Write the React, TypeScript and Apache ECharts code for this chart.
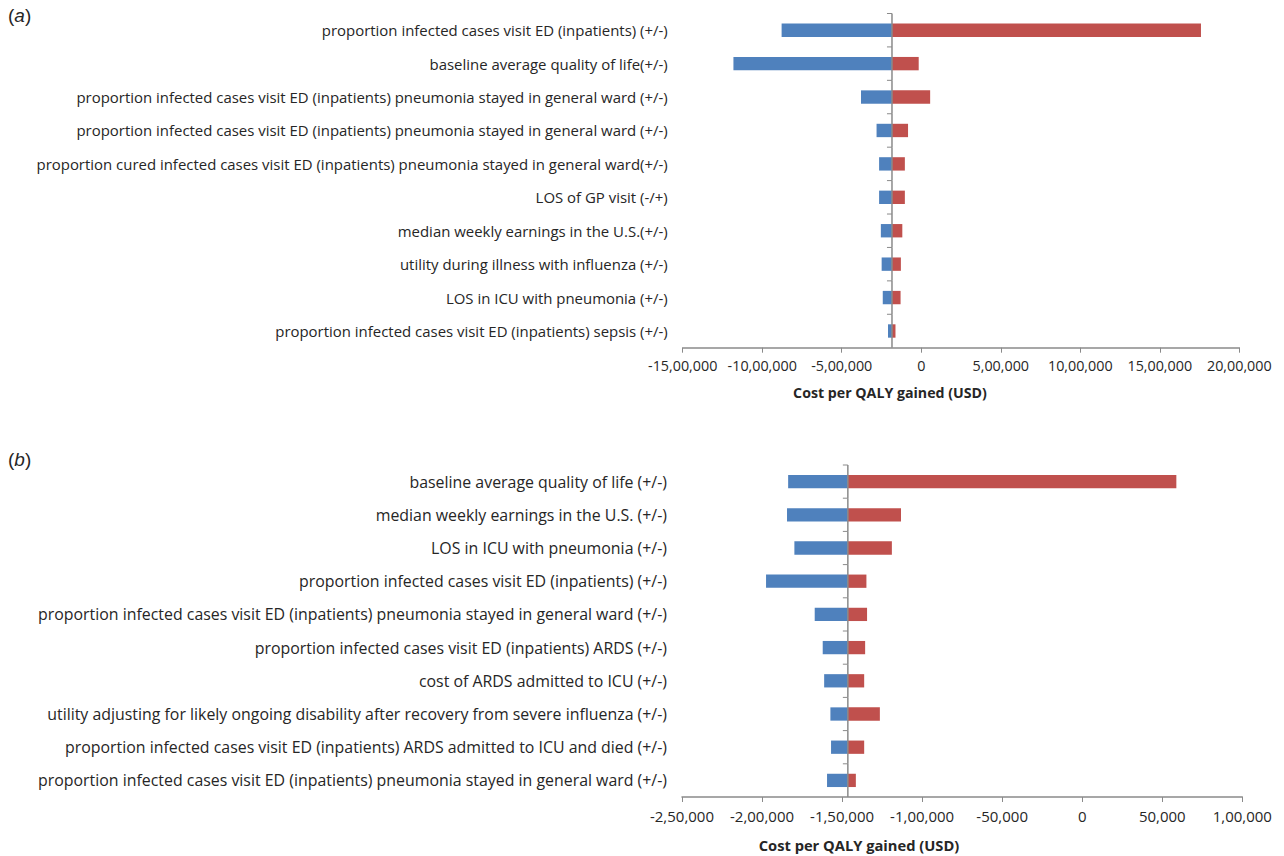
import React, { useEffect, useRef } from "react";
import * as echarts from "echarts";

// ---------- Panel (a) ----------
const categoriesA = [
  "proportion infected cases visit ED (inpatients) (+/-)",
  "baseline average quality of life(+/-)",
  "proportion infected cases visit ED (inpatients) pneumonia stayed in general ward (+/-)",
  "proportion infected cases visit ED (inpatients) pneumonia stayed in general ward (+/-)",
  "proportion cured infected cases visit ED (inpatients) pneumonia stayed in general ward(+/-)",
  "LOS of GP visit (-/+)",
  "median weekly earnings in the U.S.(+/-)",
  "utility during illness with influenza (+/-)",
  "LOS in ICU with pneumonia (+/-)",
  "proportion infected cases visit ED (inpatients) sepsis (+/-)",
];
const lowA = [-878000, -1181000, -379000, -281000, -265000, -265000, -254000, -249000, -242000, -209000];
const highA = [1759000, -16000, 56000, -83000, -103000, -103000, -119000, -128000, -130000, -162000];
const baseA = -184000;
const ticksA = [-1500000, -1000000, -500000, 0, 500000, 1000000, 1500000, 2000000];
const tickLabelsA = ["-15,00,000", "-10,00,000", "-5,00,000", "0", "5,00,000", "10,00,000", "15,00,000", "20,00,000"];

// ---------- Panel (b) ----------
const categoriesB = [
  "baseline average quality of life (+/-)",
  "median weekly earnings in the U.S. (+/-)",
  "LOS in ICU with pneumonia (+/-)",
  "proportion infected cases visit ED (inpatients) (+/-)",
  "proportion infected cases visit ED (inpatients) pneumonia stayed in general ward (+/-)",
  "proportion infected cases visit ED (inpatients) ARDS (+/-)",
  "cost of ARDS admitted to ICU (+/-)",
  "utility adjusting for likely ongoing disability after recovery from severe influenza (+/-)",
  "proportion infected cases visit ED (inpatients) ARDS admitted to ICU and died (+/-)",
  "proportion infected cases visit ED (inpatients) pneumonia stayed in general ward (+/-)",
];
const lowB = [-183700, -184400, -179800, -197500, -167100, -162100, -161200, -157300, -156900, -159400];
const highB = [58800, -113200, -118900, -134800, -134400, -135600, -136200, -126400, -136200, -141400];
const baseB = -146400;
const ticksB = [-250000, -200000, -150000, -100000, -50000, 0, 50000, 100000];
const tickLabelsB = ["-2,50,000", "-2,00,000", "-1,50,000", "-1,00,000", "-50,000", "0", "50,000", "1,00,000"];

const axisTitle = "Cost per QALY gained (USD)";
const BLUE = "#4F81BD";
const RED = "#C0504D";
const GRAY = "#8a8a8a";
const TEXT = "#262626";
const FONT = "Open Sans";

function barSeries(values: number[], base: number, color: string, idx: number) {
  return {
    type: "custom",
    xAxisIndex: idx,
    yAxisIndex: idx,
    data: values.map((v, i) => [v, i]),
    encode: { x: 0, y: 1 },
    z: 2,
    renderItem: (params: any, api: any) => {
      const c = api.value(1);
      const p0 = api.coord([base, c]);
      const p1 = api.coord([api.value(0), c]);
      const h = api.size([0, 1])[1] * 0.4;
      return {
        type: "rect",
        shape: { x: Math.min(p0[0], p1[0]), y: p0[1] - h / 2, width: Math.abs(p1[0] - p0[0]), height: h },
        style: { fill: color },
      };
    },
  };
}

function centerLine(n: number, base: number, idx: number) {
  return {
    type: "custom",
    xAxisIndex: idx,
    yAxisIndex: idx,
    data: Array.from({ length: n }, (_, i) => [base, i]),
    encode: { x: 0, y: 1 },
    z: 5,
    silent: true,
    renderItem: (params: any, api: any) => {
      const c = api.value(1);
      const p = api.coord([api.value(0), c]);
      const bh = api.size([0, 1])[1];
      const top = p[1] - bh / 2;
      const bot = p[1] + bh / 2;
      return {
        type: "group",
        children: [
          { type: "line", shape: { x1: p[0], y1: top, x2: p[0], y2: bot }, style: { stroke: GRAY, lineWidth: 1.5 } },
          { type: "line", shape: { x1: p[0] - 5, y1: top, x2: p[0], y2: top }, style: { stroke: GRAY, lineWidth: 1 } },
        ],
      };
    },
  };
}

function xAxis(idx: number, ticks: number[], labels: string[], fontSize: number) {
  return {
    type: "value",
    gridIndex: idx,
    min: ticks[0],
    max: ticks[ticks.length - 1],
    interval: ticks[1] - ticks[0],
    axisLine: { show: true, lineStyle: { color: GRAY, width: 1.5 } },
    axisTick: { show: true, length: 5, lineStyle: { color: GRAY } },
    splitLine: { show: false },
    axisLabel: {
      color: TEXT,
      fontSize,
      fontFamily: FONT,
      margin: 11,
      formatter: (v: number) => {
        const k = ticks.indexOf(v);
        return k >= 0 ? labels[k] : "";
      },
    },
  };
}

function yAxis(idx: number, cats: string[], fontSize: number) {
  return {
    type: "category",
    gridIndex: idx,
    data: cats,
    inverse: true,
    axisLine: { show: false },
    axisTick: { show: false },
    splitLine: { show: false },
    axisLabel: { color: TEXT, fontSize, fontFamily: FONT, margin: 15, interval: 0 },
  };
}

function panelLetter(letter: string, y: number) {
  return {
    type: "text",
    left: 8,
    top: y,
    style: {
      text: "(" + "{i|" + letter + "})",
      rich: { i: { fontStyle: "italic", fontSize: 19, fontFamily: "Liberation Sans", fill: TEXT } },
      fontSize: 19,
      fontFamily: "Liberation Sans",
      fill: TEXT,
    },
  };
}

export default function App() {
  const ref = useRef<HTMLDivElement>(null);
  useEffect(() => {
    if (!ref.current) return;
    const chart = echarts.init(ref.current, null, { renderer: "svg" });
    chart.setOption({
      animation: false,
      backgroundColor: "#ffffff",
      textStyle: { fontFamily: FONT },
      grid: [
        { left: 682.7, top: 13.5, width: 556.6, height: 334.2 },
        { left: 682, top: 465, width: 560.3, height: 332 },
      ],
      xAxis: [xAxis(0, ticksA, tickLabelsA, 14.3), xAxis(1, ticksB, tickLabelsB, 15)],
      yAxis: [yAxis(0, categoriesA, 14.95), yAxis(1, categoriesB, 15.9)],
      series: [
        barSeries(lowA, baseA, BLUE, 0),
        barSeries(highA, baseA, RED, 0),
        centerLine(categoriesA.length, baseA, 0),
        barSeries(lowB, baseB, BLUE, 1),
        barSeries(highB, baseB, RED, 1),
        centerLine(categoriesB.length, baseB, 1),
      ],
      graphic: [
        panelLetter("a", 6),
        panelLetter("b", 450),
        {
          type: "text",
          x: 890,
          y: 392,
          style: { text: axisTitle, fontSize: 14.2, fontWeight: "bold", fontFamily: FONT, fill: TEXT, align: "center", verticalAlign: "middle" },
        },
        {
          type: "text",
          x: 859,
          y: 845,
          style: { text: axisTitle, fontSize: 14.7, fontWeight: "bold", fontFamily: FONT, fill: TEXT, align: "center", verticalAlign: "middle" },
        },
      ],
    });
    return () => chart.dispose();
  }, []);
  return <div ref={ref} style={{ position: "absolute", left: 0, top: 0, width: 1284, height: 856 }} />;
}
